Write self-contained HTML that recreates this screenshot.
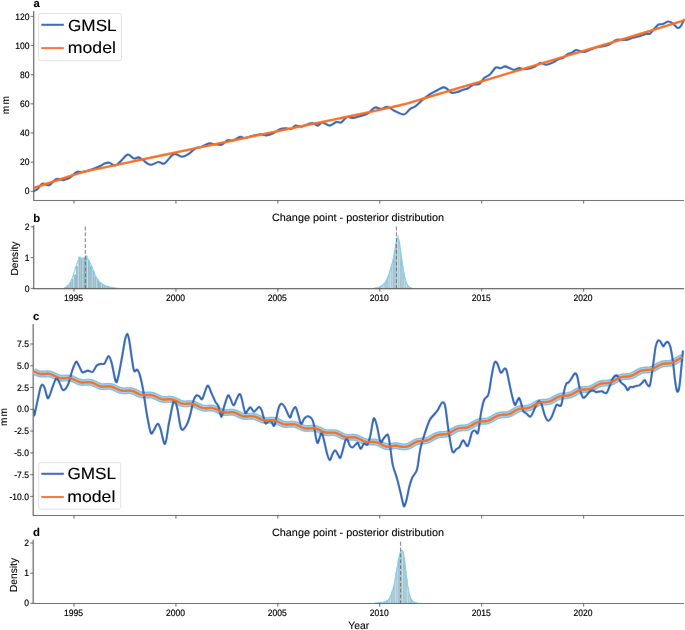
<!DOCTYPE html>
<html><head><meta charset="utf-8"><style>
html,body{margin:0;padding:0;background:#fff;width:685px;height:630px;overflow:hidden;}
body{position:relative;font-family:"Liberation Sans", sans-serif;}
svg{will-change:transform;}
text{text-rendering:geometricPrecision;}
</style></head><body>
<svg width="685" height="630" viewBox="0 0 685 630" style='position:absolute;left:0;top:0;font-family:"Liberation Sans", sans-serif'>
<defs><filter id="bl" x="-6" y="-6" width="697" height="642" filterUnits="userSpaceOnUse"><feConvolveMatrix order="3" kernelMatrix="0.00276 0.04704 0.00276 0.04704 0.80077 0.04704 0.00276 0.04704 0.00276" edgeMode="duplicate" preserveAlpha="true"/></filter><filter id="tb" x="-6" y="-6" width="697" height="642" filterUnits="userSpaceOnUse"><feConvolveMatrix order="3" kernelMatrix="0.00027 0.01580 0.00027 0.01580 0.93575 0.01580 0.00027 0.01580 0.00027" edgeMode="none" preserveAlpha="false"/></filter></defs>
<rect width="685" height="630" fill="#ffffff"/>
<g filter="url(#bl)">
<rect x="-6" y="-6" width="697" height="642" fill="#ffffff"/>
<path d="M33.70,11.00 L33.70,200.50 L684.00,200.50" fill="none" stroke="#555555" stroke-width="1.15"/>
<line x1="74.00" y1="200.50" x2="74.00" y2="203.60" stroke="#555555" stroke-width="0.95"/>
<line x1="175.92" y1="200.50" x2="175.92" y2="203.60" stroke="#555555" stroke-width="0.95"/>
<line x1="277.84" y1="200.50" x2="277.84" y2="203.60" stroke="#555555" stroke-width="0.95"/>
<line x1="379.76" y1="200.50" x2="379.76" y2="203.60" stroke="#555555" stroke-width="0.95"/>
<line x1="481.68" y1="200.50" x2="481.68" y2="203.60" stroke="#555555" stroke-width="0.95"/>
<line x1="583.60" y1="200.50" x2="583.60" y2="203.60" stroke="#555555" stroke-width="0.95"/>
<line x1="30.70" y1="191.30" x2="33.70" y2="191.30" stroke="#555555" stroke-width="0.95"/>
<line x1="30.70" y1="162.15" x2="33.70" y2="162.15" stroke="#555555" stroke-width="0.95"/>
<line x1="30.70" y1="133.00" x2="33.70" y2="133.00" stroke="#555555" stroke-width="0.95"/>
<line x1="30.70" y1="103.85" x2="33.70" y2="103.85" stroke="#555555" stroke-width="0.95"/>
<line x1="30.70" y1="74.70" x2="33.70" y2="74.70" stroke="#555555" stroke-width="0.95"/>
<line x1="30.70" y1="45.55" x2="33.70" y2="45.55" stroke="#555555" stroke-width="0.95"/>
<line x1="30.70" y1="16.40" x2="33.70" y2="16.40" stroke="#555555" stroke-width="0.95"/>
<clipPath id="ca"><rect x="33.7" y="6.0" width="651.3" height="193.5"/></clipPath>
<g clip-path="url(#ca)">
<path d="M33.80,191.20C33.85,191.17 33.47,191.37 34.10,191.00C34.73,190.63 36.33,190.17 37.60,189.00C38.87,187.83 40.63,184.88 41.70,184.00C42.77,183.12 43.03,183.50 44.00,183.70C44.97,183.90 46.52,185.00 47.50,185.20C48.48,185.40 48.92,185.53 49.90,184.90C50.88,184.27 52.33,182.37 53.40,181.40C54.47,180.43 55.33,179.48 56.30,179.10C57.27,178.72 58.13,178.92 59.20,179.10C60.27,179.28 61.73,180.12 62.70,180.20C63.67,180.28 63.78,180.03 65.00,179.60C66.22,179.17 68.05,178.88 70.00,177.60C71.95,176.32 74.80,172.82 76.70,171.90C78.60,170.98 79.07,172.45 81.40,172.10C83.73,171.75 87.58,170.82 90.70,169.80C93.82,168.78 97.80,167.05 100.10,166.00C102.40,164.95 102.97,164.05 104.50,163.50C106.03,162.95 107.52,162.37 109.30,162.70C111.08,163.03 113.25,165.80 115.20,165.50C117.15,165.20 118.93,162.72 121.00,160.90C123.07,159.08 125.45,155.00 127.60,154.60C129.75,154.20 132.08,158.03 133.90,158.50C135.72,158.97 136.95,157.12 138.50,157.40C140.05,157.68 141.25,158.97 143.20,160.20C145.15,161.43 147.67,164.50 150.20,164.80C152.73,165.10 156.07,162.18 158.40,162.00C160.73,161.82 162.25,164.47 164.20,163.70C166.15,162.93 168.35,159.03 170.10,157.40C171.85,155.77 172.75,154.02 174.70,153.90C176.65,153.78 179.45,156.70 181.80,156.70C184.15,156.70 186.47,155.35 188.80,153.90C191.13,152.45 193.87,149.10 195.80,148.00C197.73,146.90 198.27,148.07 200.40,147.30C202.53,146.53 206.25,143.93 208.60,143.40C210.95,142.87 212.35,143.87 214.50,144.10C216.65,144.33 219.37,145.43 221.50,144.80C223.63,144.17 225.37,141.05 227.30,140.30C229.23,139.55 230.95,140.88 233.10,140.30C235.25,139.72 238.25,137.18 240.20,136.80C242.15,136.42 242.87,138.15 244.80,138.00C246.73,137.85 250.15,136.33 251.80,135.90C253.45,135.47 253.25,135.68 254.70,135.40C256.15,135.12 258.55,134.20 260.50,134.20C262.45,134.20 264.25,135.55 266.40,135.40C268.55,135.25 271.07,134.35 273.40,133.30C275.73,132.25 278.27,129.92 280.40,129.10C282.53,128.28 284.45,128.40 286.20,128.40C287.95,128.40 289.35,129.57 290.90,129.10C292.45,128.63 293.75,126.00 295.50,125.60C297.25,125.20 299.25,126.98 301.40,126.70C303.55,126.42 306.45,124.48 308.40,123.90C310.35,123.32 311.55,122.92 313.10,123.20C314.65,123.48 316.15,125.72 317.70,125.60C319.25,125.48 320.45,122.50 322.40,122.50C324.35,122.50 327.07,125.68 329.40,125.60C331.73,125.52 334.45,122.52 336.40,122.00C338.35,121.48 339.33,123.32 341.10,122.50C342.87,121.68 345.13,117.85 347.00,117.10C348.87,116.35 349.97,118.20 352.30,118.00C354.63,117.80 358.38,116.68 361.00,115.90C363.62,115.12 365.67,114.70 368.00,113.30C370.33,111.90 372.80,108.23 375.00,107.50C377.20,106.77 379.15,109.02 381.20,108.90C383.25,108.78 385.12,106.50 387.30,106.80C389.48,107.10 391.52,109.42 394.30,110.70C397.08,111.98 401.37,114.80 404.00,114.50C406.63,114.20 408.22,110.27 410.10,108.90C411.98,107.53 413.08,107.93 415.30,106.30C417.52,104.67 420.88,101.17 423.40,99.10C425.92,97.03 428.07,95.38 430.40,93.90C432.73,92.42 435.27,91.28 437.40,90.20C439.53,89.12 441.65,87.68 443.20,87.40C444.75,87.12 445.33,87.62 446.70,88.50C448.07,89.38 449.65,92.12 451.40,92.70C453.15,93.28 455.25,92.50 457.20,92.00C459.15,91.50 461.35,90.28 463.10,89.70C464.85,89.12 465.95,89.35 467.70,88.50C469.45,87.65 471.65,85.37 473.60,84.60C475.55,83.83 477.65,85.00 479.40,83.90C481.15,82.80 482.35,79.57 484.10,78.00C485.85,76.43 487.95,76.25 489.90,74.50C491.85,72.75 494.05,68.55 495.80,67.50C497.55,66.45 498.85,68.38 500.40,68.20C501.95,68.02 503.53,66.40 505.10,66.40C506.67,66.40 508.23,67.62 509.80,68.20C511.37,68.78 512.95,69.93 514.50,69.90C516.05,69.87 517.55,68.12 519.10,68.00C520.65,67.88 521.85,69.17 523.80,69.20C525.75,69.23 528.85,68.67 530.80,68.20C532.75,67.73 533.93,67.30 535.50,66.40C537.07,65.50 538.42,63.08 540.20,62.80C541.98,62.52 544.12,64.73 546.20,64.70C548.28,64.67 550.55,63.55 552.70,62.60C554.85,61.65 557.33,59.78 559.10,59.00C560.87,58.22 561.90,58.72 563.30,57.90C564.70,57.08 566.08,54.98 567.50,54.10C568.92,53.22 570.38,53.27 571.80,52.60C573.22,51.93 574.60,50.35 576.00,50.10C577.40,49.85 578.78,50.78 580.20,51.10C581.62,51.42 582.73,52.27 584.50,52.00C586.27,51.73 588.68,50.28 590.80,49.50C592.92,48.72 595.08,47.83 597.20,47.30C599.32,46.77 601.38,46.82 603.50,46.30C605.62,45.78 607.78,45.27 609.90,44.20C612.02,43.13 614.08,40.62 616.20,39.90C618.32,39.18 620.83,39.90 622.60,39.90C624.37,39.90 625.05,40.25 626.80,39.90C628.55,39.55 630.98,38.40 633.10,37.80C635.22,37.20 637.38,36.93 639.50,36.30C641.62,35.67 644.03,34.45 645.80,34.00C647.57,33.55 648.68,34.48 650.10,33.60C651.52,32.72 652.90,30.22 654.30,28.70C655.70,27.18 657.08,25.27 658.50,24.50C659.92,23.73 661.20,24.60 662.80,24.10C664.40,23.60 666.52,21.68 668.10,21.50C669.68,21.32 670.72,21.93 672.30,23.00C673.88,24.07 676.18,27.37 677.60,27.90C679.02,28.43 679.73,27.55 680.80,26.20C681.87,24.85 683.47,20.87 684.00,19.80" fill="none" stroke="#2360b4" stroke-width="2.1" stroke-linejoin="round" stroke-linecap="round"/>
<path d="M33.80,187.90C36.50,187.02 43.97,184.57 50.00,182.60C56.03,180.63 64.17,177.93 70.00,176.10C75.83,174.27 80.00,172.88 85.00,171.60C90.00,170.32 93.33,169.82 100.00,168.40C106.67,166.98 115.00,165.20 125.00,163.10C135.00,161.00 147.50,158.42 160.00,155.80C172.50,153.18 185.00,150.55 200.00,147.40C215.00,144.25 233.33,140.38 250.00,136.90C266.67,133.42 285.00,129.60 300.00,126.50C315.00,123.40 327.50,120.90 340.00,118.30C352.50,115.70 366.23,112.78 375.00,110.90C383.77,109.02 388.10,108.02 392.60,107.00C397.10,105.98 399.08,105.53 402.00,104.80C404.92,104.07 407.10,103.47 410.10,102.60C413.10,101.73 417.08,100.48 420.00,99.60C422.92,98.72 423.42,98.55 427.60,97.30C431.78,96.05 439.70,93.70 445.10,92.10C450.50,90.50 450.85,90.40 460.00,87.70C469.15,85.00 486.67,79.88 500.00,75.90C513.33,71.92 530.00,66.80 540.00,63.80C550.00,60.80 550.00,60.87 560.00,57.90C570.00,54.93 586.67,49.98 600.00,46.00C613.33,42.02 626.00,38.27 640.00,34.00C654.00,29.73 676.67,22.67 684.00,20.40" fill="none" stroke="#f76d12" stroke-width="2.45" stroke-linejoin="round" stroke-linecap="round"/>
</g>
<rect x="38.70" y="13.50" width="82.80" height="47.10" rx="2" ry="2" fill="#ffffff" fill-opacity="0.8" stroke="#dcdcdc" stroke-width="0.9"/>
<line x1="41.30" y1="24.80" x2="63.90" y2="24.80" stroke="#2360b4" stroke-width="2"/>
<line x1="41.30" y1="48.10" x2="63.90" y2="48.10" stroke="#f76d12" stroke-width="2"/>
<rect x="64.50" y="287.00" width="2.35" height="1.55" fill="#97bac6"/>
<rect x="66.80" y="285.00" width="2.35" height="3.55" fill="#97bac6"/>
<rect x="69.10" y="282.50" width="2.35" height="6.05" fill="#97bac6"/>
<rect x="71.40" y="279.00" width="2.35" height="9.55" fill="#97bac6"/>
<rect x="73.70" y="274.50" width="2.35" height="14.05" fill="#97bac6"/>
<rect x="76.00" y="266.00" width="2.35" height="22.55" fill="#97bac6"/>
<rect x="78.30" y="256.60" width="2.35" height="31.95" fill="#97bac6"/>
<rect x="80.60" y="258.30" width="2.35" height="30.25" fill="#97bac6"/>
<rect x="82.90" y="257.80" width="2.35" height="30.75" fill="#97bac6"/>
<rect x="85.20" y="255.60" width="2.35" height="32.95" fill="#97bac6"/>
<rect x="87.50" y="260.00" width="2.35" height="28.55" fill="#97bac6"/>
<rect x="89.80" y="265.80" width="2.35" height="22.75" fill="#97bac6"/>
<rect x="92.10" y="270.50" width="2.35" height="18.05" fill="#97bac6"/>
<rect x="94.40" y="276.50" width="2.35" height="12.05" fill="#97bac6"/>
<rect x="96.70" y="279.50" width="2.35" height="9.05" fill="#97bac6"/>
<rect x="99.00" y="282.50" width="2.35" height="6.05" fill="#97bac6"/>
<rect x="101.30" y="284.00" width="2.35" height="4.55" fill="#97bac6"/>
<rect x="103.60" y="285.30" width="2.35" height="3.25" fill="#97bac6"/>
<rect x="105.90" y="286.00" width="2.35" height="2.55" fill="#97bac6"/>
<rect x="108.20" y="286.80" width="2.35" height="1.75" fill="#97bac6"/>
<rect x="110.50" y="287.40" width="2.35" height="1.15" fill="#97bac6"/>
<rect x="112.80" y="287.80" width="2.35" height="0.75" fill="#97bac6"/>
<line x1="69.10" y1="285.00" x2="69.10" y2="288.55" stroke="#cfeef8" stroke-width="0.7"/>
<line x1="73.70" y1="279.00" x2="73.70" y2="288.55" stroke="#cfeef8" stroke-width="0.7"/>
<line x1="78.30" y1="266.00" x2="78.30" y2="288.55" stroke="#cfeef8" stroke-width="0.7"/>
<line x1="82.90" y1="258.30" x2="82.90" y2="288.55" stroke="#cfeef8" stroke-width="0.7"/>
<line x1="87.50" y1="260.00" x2="87.50" y2="288.55" stroke="#cfeef8" stroke-width="0.7"/>
<line x1="92.10" y1="270.50" x2="92.10" y2="288.55" stroke="#cfeef8" stroke-width="0.7"/>
<line x1="96.70" y1="279.50" x2="96.70" y2="288.55" stroke="#cfeef8" stroke-width="0.7"/>
<line x1="101.30" y1="284.00" x2="101.30" y2="288.55" stroke="#cfeef8" stroke-width="0.7"/>
<line x1="105.90" y1="286.00" x2="105.90" y2="288.55" stroke="#cfeef8" stroke-width="0.7"/>
<line x1="110.50" y1="287.40" x2="110.50" y2="288.55" stroke="#cfeef8" stroke-width="0.7"/>
<path d="M63.50,288.50C63.80,288.40 64.72,288.28 65.30,287.90C65.88,287.52 66.28,286.90 67.00,286.20C67.72,285.50 68.62,285.32 69.60,283.70C70.58,282.08 71.82,279.43 72.90,276.50C73.98,273.57 75.10,268.98 76.10,266.10C77.10,263.22 78.10,260.50 78.90,259.20C79.70,257.90 80.03,258.50 80.90,258.30C81.77,258.10 83.03,257.98 84.10,258.00C85.17,258.02 86.43,257.87 87.30,258.40C88.17,258.93 88.50,259.72 89.30,261.20C90.10,262.68 91.10,264.88 92.10,267.30C93.10,269.72 94.22,273.43 95.30,275.70C96.38,277.97 97.38,279.50 98.60,280.90C99.82,282.30 101.27,283.27 102.60,284.10C103.93,284.93 105.37,285.42 106.60,285.90C107.83,286.38 108.85,286.70 110.00,287.00C111.15,287.30 112.33,287.50 113.50,287.70C114.67,287.90 115.92,288.07 117.00,288.20C118.08,288.33 119.50,288.45 120.00,288.50" fill="none" stroke="#7acfec" stroke-width="1.1" stroke-linejoin="round"/>
<line x1="85.30" y1="226.50" x2="85.30" y2="288.55" stroke="#5a5a5a" stroke-width="0.9" stroke-dasharray="3.9,1.95"/>
<rect x="379.00" y="286.69" width="1.20" height="1.86" fill="#97bac6"/>
<rect x="380.15" y="286.07" width="1.20" height="2.48" fill="#97bac6"/>
<rect x="381.30" y="285.80" width="1.20" height="2.75" fill="#97bac6"/>
<rect x="382.45" y="284.95" width="1.20" height="3.60" fill="#97bac6"/>
<rect x="383.60" y="283.23" width="1.20" height="5.32" fill="#97bac6"/>
<rect x="384.75" y="282.00" width="1.20" height="6.55" fill="#97bac6"/>
<rect x="385.90" y="279.83" width="1.20" height="8.72" fill="#97bac6"/>
<rect x="387.05" y="277.72" width="1.20" height="10.83" fill="#97bac6"/>
<rect x="388.20" y="274.45" width="1.20" height="14.10" fill="#97bac6"/>
<rect x="389.35" y="270.79" width="1.20" height="17.76" fill="#97bac6"/>
<rect x="390.50" y="267.11" width="1.20" height="21.44" fill="#97bac6"/>
<rect x="391.65" y="264.28" width="1.20" height="24.27" fill="#97bac6"/>
<rect x="392.80" y="258.50" width="1.20" height="30.05" fill="#97bac6"/>
<rect x="393.95" y="252.07" width="1.20" height="36.48" fill="#97bac6"/>
<rect x="395.10" y="243.93" width="1.20" height="44.62" fill="#97bac6"/>
<rect x="396.25" y="237.57" width="1.20" height="50.98" fill="#97bac6"/>
<rect x="397.40" y="235.79" width="1.20" height="52.76" fill="#97bac6"/>
<rect x="398.55" y="240.98" width="1.20" height="47.57" fill="#97bac6"/>
<rect x="399.70" y="248.78" width="1.20" height="39.77" fill="#97bac6"/>
<rect x="400.85" y="258.14" width="1.20" height="30.41" fill="#97bac6"/>
<rect x="402.00" y="266.02" width="1.20" height="22.53" fill="#97bac6"/>
<rect x="403.15" y="272.53" width="1.20" height="16.02" fill="#97bac6"/>
<rect x="404.30" y="277.07" width="1.20" height="11.48" fill="#97bac6"/>
<rect x="405.45" y="281.62" width="1.20" height="6.93" fill="#97bac6"/>
<rect x="406.60" y="284.09" width="1.20" height="4.46" fill="#97bac6"/>
<rect x="407.75" y="285.86" width="1.20" height="2.69" fill="#97bac6"/>
<rect x="408.90" y="286.97" width="1.20" height="1.58" fill="#97bac6"/>
<rect x="410.05" y="287.77" width="1.20" height="0.78" fill="#97bac6"/>
<line x1="381.30" y1="286.07" x2="381.30" y2="288.55" stroke="#cfeef8" stroke-width="0.7"/>
<line x1="383.60" y1="284.95" x2="383.60" y2="288.55" stroke="#cfeef8" stroke-width="0.7"/>
<line x1="385.90" y1="282.00" x2="385.90" y2="288.55" stroke="#cfeef8" stroke-width="0.7"/>
<line x1="388.20" y1="277.72" x2="388.20" y2="288.55" stroke="#cfeef8" stroke-width="0.7"/>
<line x1="390.50" y1="270.79" x2="390.50" y2="288.55" stroke="#cfeef8" stroke-width="0.7"/>
<line x1="392.80" y1="264.28" x2="392.80" y2="288.55" stroke="#cfeef8" stroke-width="0.7"/>
<line x1="395.10" y1="252.07" x2="395.10" y2="288.55" stroke="#cfeef8" stroke-width="0.7"/>
<line x1="397.40" y1="237.57" x2="397.40" y2="288.55" stroke="#cfeef8" stroke-width="0.7"/>
<line x1="399.70" y1="248.78" x2="399.70" y2="288.55" stroke="#cfeef8" stroke-width="0.7"/>
<line x1="402.00" y1="266.02" x2="402.00" y2="288.55" stroke="#cfeef8" stroke-width="0.7"/>
<line x1="404.30" y1="277.07" x2="404.30" y2="288.55" stroke="#cfeef8" stroke-width="0.7"/>
<line x1="406.60" y1="284.09" x2="406.60" y2="288.55" stroke="#cfeef8" stroke-width="0.7"/>
<line x1="408.90" y1="286.97" x2="408.90" y2="288.55" stroke="#cfeef8" stroke-width="0.7"/>
<path d="M373.50,288.40C373.92,288.32 375.08,288.12 376.00,287.90C376.92,287.68 377.92,287.53 379.00,287.10C380.08,286.67 381.38,286.18 382.50,285.30C383.62,284.42 384.68,283.48 385.70,281.80C386.72,280.12 387.73,277.50 388.60,275.20C389.47,272.90 390.15,270.57 390.90,268.00C391.65,265.43 392.47,262.72 393.10,259.80C393.73,256.88 394.20,253.30 394.70,250.50C395.20,247.70 395.62,244.98 396.10,243.00C396.58,241.02 397.15,239.17 397.60,238.60C398.05,238.03 398.48,238.83 398.80,239.60C399.12,240.37 399.22,241.47 399.50,243.20C399.78,244.93 400.17,247.58 400.50,250.00C400.83,252.42 401.10,254.95 401.50,257.70C401.90,260.45 402.43,263.65 402.90,266.50C403.37,269.35 403.73,272.13 404.30,274.80C404.87,277.47 405.60,280.58 406.30,282.50C407.00,284.42 407.75,285.40 408.50,286.30C409.25,287.20 410.05,287.55 410.80,287.90C411.55,288.25 412.63,288.32 413.00,288.40" fill="none" stroke="#7acfec" stroke-width="1.1" stroke-linejoin="round"/>
<line x1="396.40" y1="226.50" x2="396.40" y2="288.55" stroke="#5a5a5a" stroke-width="0.9" stroke-dasharray="3.9,1.95"/>
<path d="M33.70,225.20 L33.70,288.55 L684.00,288.55" fill="none" stroke="#555555" stroke-width="1.15"/>
<line x1="74.00" y1="288.55" x2="74.00" y2="291.65" stroke="#555555" stroke-width="0.95"/>
<line x1="175.92" y1="288.55" x2="175.92" y2="291.65" stroke="#555555" stroke-width="0.95"/>
<line x1="277.84" y1="288.55" x2="277.84" y2="291.65" stroke="#555555" stroke-width="0.95"/>
<line x1="379.76" y1="288.55" x2="379.76" y2="291.65" stroke="#555555" stroke-width="0.95"/>
<line x1="481.68" y1="288.55" x2="481.68" y2="291.65" stroke="#555555" stroke-width="0.95"/>
<line x1="583.60" y1="288.55" x2="583.60" y2="291.65" stroke="#555555" stroke-width="0.95"/>
<line x1="30.70" y1="288.40" x2="33.70" y2="288.40" stroke="#555555" stroke-width="0.95"/>
<line x1="30.70" y1="257.60" x2="33.70" y2="257.60" stroke="#555555" stroke-width="0.95"/>
<line x1="30.70" y1="226.80" x2="33.70" y2="226.80" stroke="#555555" stroke-width="0.95"/>
<path d="M33.20,324.00 L33.20,515.50 L684.00,515.50" fill="none" stroke="#555555" stroke-width="1.15"/>
<line x1="74.00" y1="515.50" x2="74.00" y2="518.60" stroke="#555555" stroke-width="0.95"/>
<line x1="175.92" y1="515.50" x2="175.92" y2="518.60" stroke="#555555" stroke-width="0.95"/>
<line x1="277.84" y1="515.50" x2="277.84" y2="518.60" stroke="#555555" stroke-width="0.95"/>
<line x1="379.76" y1="515.50" x2="379.76" y2="518.60" stroke="#555555" stroke-width="0.95"/>
<line x1="481.68" y1="515.50" x2="481.68" y2="518.60" stroke="#555555" stroke-width="0.95"/>
<line x1="583.60" y1="515.50" x2="583.60" y2="518.60" stroke="#555555" stroke-width="0.95"/>
<line x1="30.20" y1="344.00" x2="33.20" y2="344.00" stroke="#555555" stroke-width="0.95"/>
<line x1="30.20" y1="365.77" x2="33.20" y2="365.77" stroke="#555555" stroke-width="0.95"/>
<line x1="30.20" y1="387.54" x2="33.20" y2="387.54" stroke="#555555" stroke-width="0.95"/>
<line x1="30.20" y1="409.31" x2="33.20" y2="409.31" stroke="#555555" stroke-width="0.95"/>
<line x1="30.20" y1="431.08" x2="33.20" y2="431.08" stroke="#555555" stroke-width="0.95"/>
<line x1="30.20" y1="452.86" x2="33.20" y2="452.86" stroke="#555555" stroke-width="0.95"/>
<line x1="30.20" y1="474.63" x2="33.20" y2="474.63" stroke="#555555" stroke-width="0.95"/>
<line x1="30.20" y1="496.40" x2="33.20" y2="496.40" stroke="#555555" stroke-width="0.95"/>
<clipPath id="cc"><rect x="33.4" y="319.0" width="651.6" height="195.5"/></clipPath>
<g clip-path="url(#cc)">
<path d="M33.60,371.28 L34.60,371.77 L35.60,372.27 L36.60,372.74 L37.60,373.16 L38.60,373.51 L39.60,373.78 L40.60,373.96 L41.60,374.05 L42.60,374.07 L43.60,374.03 L44.60,373.95 L45.60,373.87 L46.60,373.80 L47.60,373.78 L48.60,373.82 L49.60,373.95 L50.60,374.16 L51.60,374.47 L52.60,374.85 L53.60,375.29 L54.60,375.77 L55.60,376.27 L56.60,376.75 L57.60,377.20 L58.60,377.58 L59.60,377.88 L60.60,378.10 L61.60,378.22 L62.60,378.27 L63.60,378.24 L64.60,378.18 L65.60,378.09 L66.60,378.02 L67.60,377.97 L68.60,377.99 L69.60,378.08 L70.60,378.26 L71.60,378.53 L72.60,378.88 L73.60,379.31 L74.60,379.78 L75.60,380.27 L76.60,380.76 L77.60,381.23 L78.60,381.63 L79.60,381.97 L80.60,382.22 L81.60,382.38 L82.60,382.45 L83.60,382.45 L84.60,382.40 L85.60,382.32 L86.60,382.24 L87.60,382.18 L88.60,382.17 L89.60,382.23 L90.60,382.38 L91.60,382.61 L92.60,382.93 L93.60,383.33 L94.60,383.78 L95.60,384.27 L96.60,384.77 L97.60,385.25 L98.60,385.68 L99.60,386.04 L100.60,386.33 L101.60,386.52 L102.60,386.62 L103.60,386.65 L104.60,386.62 L105.60,386.55 L106.60,386.46 L107.60,386.39 L108.60,386.36 L109.60,386.39 L110.60,386.50 L111.60,386.70 L112.60,386.99 L113.60,387.36 L114.60,387.80 L115.60,388.28 L116.60,388.77 L117.60,389.26 L118.60,389.71 L119.60,390.10 L120.60,390.42 L121.60,390.65 L122.60,390.79 L123.60,390.84 L124.60,390.83 L125.60,390.77 L126.60,390.70 L127.60,390.62 L128.60,390.58 L129.60,390.60 L130.60,390.68 L131.60,390.86 L132.60,391.12 L133.60,391.47 L134.60,391.89 L135.60,392.36 L136.60,392.86 L137.60,393.36 L138.60,393.84 L139.60,394.26 L140.60,394.61 L141.60,394.88 L142.60,395.07 L143.60,395.16 L144.60,395.18 L145.60,395.14 L146.60,395.07 L147.60,394.99 L148.60,394.94 L149.60,394.93 L150.60,394.98 L151.60,395.12 L152.60,395.35 L153.60,395.66 L154.60,396.06 L155.60,396.51 L156.60,397.01 L157.60,397.51 L158.60,398.00 L159.60,398.45 L160.60,398.83 L161.60,399.13 L162.60,399.35 L163.60,399.48 L164.60,399.52 L165.60,399.50 L166.60,399.44 L167.60,399.36 L168.60,399.30 L169.60,399.26 L170.60,399.29 L171.60,399.40 L172.60,399.59 L173.60,399.87 L174.60,400.24 L175.60,400.67 L176.60,401.15 L177.60,401.66 L178.60,402.16 L179.60,402.62 L180.60,403.03 L181.60,403.37 L182.60,403.62 L183.60,403.78 L184.60,403.85 L185.60,403.86 L186.60,403.81 L187.60,403.74 L188.60,403.66 L189.60,403.61 L190.60,403.62 L191.60,403.69 L192.60,403.85 L193.60,404.10 L194.60,404.43 L195.60,404.84 L196.60,405.31 L197.60,405.80 L198.60,406.31 L199.60,406.79 L200.60,407.22 L201.60,407.59 L202.60,407.87 L203.60,408.07 L204.60,408.18 L205.60,408.21 L206.60,408.18 L207.60,408.11 L208.60,408.03 L209.60,407.97 L210.60,407.95 L211.60,407.99 L212.60,408.12 L213.60,408.33 L214.60,408.64 L215.60,409.02 L216.60,409.46 L217.60,409.95 L218.60,410.46 L219.60,410.95 L220.60,411.41 L221.60,411.80 L222.60,412.12 L223.60,412.35 L224.60,412.49 L225.60,412.54 L226.60,412.51 L227.60,412.44 L228.60,412.34 L229.60,412.25 L230.60,412.20 L231.60,412.20 L232.60,412.27 L233.60,412.43 L234.60,412.69 L235.60,413.02 L236.60,413.43 L237.60,413.89 L238.60,414.37 L239.60,414.85 L240.60,415.31 L241.60,415.71 L242.60,416.04 L243.60,416.29 L244.60,416.45 L245.60,416.52 L246.60,416.52 L247.60,416.46 L248.60,416.37 L249.60,416.28 L250.60,416.20 L251.60,416.18 L252.60,416.22 L253.60,416.35 L254.60,416.57 L255.60,416.87 L256.60,417.26 L257.60,417.70 L258.60,418.17 L259.60,418.66 L260.60,419.13 L261.60,419.56 L262.60,419.92 L263.60,420.20 L264.60,420.39 L265.60,420.49 L266.60,420.52 L267.60,420.48 L268.60,420.40 L269.60,420.30 L270.60,420.22 L271.60,420.17 L272.60,420.19 L273.60,420.28 L274.60,420.47 L275.60,420.74 L276.60,421.09 L277.60,421.51 L278.60,421.98 L279.60,422.46 L280.60,422.94 L281.60,423.39 L282.60,423.78 L283.60,424.09 L284.60,424.32 L285.60,424.46 L286.60,424.51 L287.60,424.49 L288.60,424.42 L289.60,424.33 L290.60,424.24 L291.60,424.18 L292.60,424.17 L293.60,424.23 L294.60,424.38 L295.60,424.61 L296.60,424.94 L297.60,425.33 L298.60,425.79 L299.60,426.27 L300.60,426.75 L301.60,427.21 L302.60,427.63 L303.60,427.97 L304.60,428.23 L305.60,428.40 L306.60,428.49 L307.60,428.50 L308.60,428.45 L309.60,428.36 L310.60,428.26 L311.60,428.19 L312.60,428.15 L313.60,428.19 L314.60,428.30 L315.60,428.50 L316.60,428.79 L317.60,429.16 L318.60,429.60 L319.60,430.07 L320.60,430.58 L321.60,431.09 L322.60,431.56 L323.60,431.96 L324.60,432.29 L325.60,432.53 L326.60,432.68 L327.60,432.75 L328.60,432.75 L329.60,432.71 L330.60,432.65 L331.60,432.60 L332.60,432.58 L333.60,432.62 L334.60,432.74 L335.60,432.94 L336.60,433.23 L337.60,433.60 L338.60,434.05 L339.60,434.54 L340.60,435.06 L341.60,435.58 L342.60,436.07 L343.60,436.50 L344.60,436.86 L345.60,437.13 L346.60,437.32 L347.60,437.42 L348.60,437.45 L349.60,437.42 L350.60,437.36 L351.60,437.30 L352.60,437.27 L353.60,437.28 L354.60,437.37 L355.60,437.53 L356.60,437.79 L357.60,438.14 L358.60,438.56 L359.60,439.03 L360.60,439.55 L361.60,440.07 L362.60,440.57 L363.60,441.03 L364.60,441.42 L365.60,441.73 L366.60,441.94 L367.60,442.08 L368.60,442.13 L369.60,442.12 L370.60,442.07 L371.60,442.01 L372.60,441.96 L373.60,441.96 L374.60,442.01 L375.60,442.15 L376.60,442.37 L377.60,442.68 L378.60,443.07 L379.60,443.53 L380.60,444.03 L381.60,444.55 L382.60,445.07 L383.60,445.54 L384.60,445.96 L385.60,446.30 L386.60,446.56 L387.60,446.72 L388.60,446.76 L389.60,446.62 L390.60,446.44 L391.60,446.23 L392.60,446.03 L393.60,445.85 L394.60,445.74 L395.60,445.69 L396.60,445.73 L397.60,445.86 L398.60,446.07 L399.60,446.36 L400.60,446.67 L401.60,446.74 L402.60,446.81 L403.60,446.85 L404.60,446.84 L405.60,446.76 L406.60,446.60 L407.60,446.35 L408.60,446.01 L409.60,445.60 L410.60,445.07 L411.60,444.46 L412.60,443.85 L413.60,443.25 L414.60,442.71 L415.60,442.23 L416.60,441.83 L417.60,441.52 L418.60,441.30 L419.60,441.16 L420.60,441.08 L421.60,441.03 L422.60,441.00 L423.60,440.96 L424.60,440.87 L425.60,440.72 L426.60,440.49 L427.60,440.17 L428.60,439.76 L429.60,439.28 L430.60,438.72 L431.60,438.13 L432.60,437.52 L433.60,436.91 L434.60,436.34 L435.60,435.84 L436.60,435.41 L437.60,435.06 L438.60,434.81 L439.60,434.64 L440.60,434.53 L441.60,434.48 L442.60,434.45 L443.60,434.41 L444.60,434.34 L445.60,434.22 L446.60,434.02 L447.60,433.74 L448.60,433.37 L449.60,432.91 L450.60,432.38 L451.60,431.80 L452.60,431.19 L453.60,430.58 L454.60,429.99 L455.60,429.46 L456.60,429.00 L457.60,428.62 L458.60,428.33 L459.60,428.13 L460.60,428.00 L461.60,427.93 L462.60,427.89 L463.60,427.86 L464.60,427.81 L465.60,427.71 L466.60,427.54 L467.60,427.29 L468.60,426.95 L469.60,426.53 L470.60,426.02 L471.60,425.46 L472.60,424.86 L473.60,424.24 L474.60,423.65 L475.60,423.09 L476.60,422.60 L477.60,422.19 L478.60,421.86 L479.60,421.63 L480.60,421.48 L481.60,421.39 L482.60,421.34 L483.60,421.31 L484.60,421.27 L485.60,421.19 L486.60,421.05 L487.60,420.83 L488.60,420.53 L489.60,420.14 L490.60,419.66 L491.60,419.12 L492.60,418.53 L493.60,417.91 L494.60,417.31 L495.60,416.73 L496.60,416.21 L497.60,415.77 L498.60,415.41 L499.60,415.14 L500.60,414.96 L501.60,414.85 L502.60,414.79 L503.60,414.75 L504.60,414.72 L505.60,414.67 L506.60,414.56 L507.60,414.39 L508.60,414.13 L509.60,413.79 L510.60,413.35 L511.60,412.85 L512.60,412.28 L513.60,411.69 L514.60,411.09 L515.60,410.51 L516.60,409.98 L517.60,409.52 L518.60,409.14 L519.60,408.85 L520.60,408.64 L521.60,408.52 L522.60,408.45 L523.60,408.42 L524.60,408.41 L525.60,408.37 L526.60,408.29 L527.60,408.15 L528.60,407.92 L529.60,407.61 L530.60,407.21 L531.60,406.73 L532.60,406.19 L533.60,405.60 L534.60,405.00 L535.60,404.41 L536.60,403.86 L537.60,403.37 L538.60,402.95 L539.60,402.63 L540.60,402.39 L541.60,402.24 L542.60,402.15 L543.60,402.11 L544.60,402.09 L545.60,402.07 L546.60,402.01 L547.60,401.89 L548.60,401.70 L549.60,401.42 L550.60,401.06 L551.60,400.60 L552.60,400.08 L553.60,399.51 L554.60,398.91 L555.60,398.31 L556.60,397.74 L557.60,397.23 L558.60,396.78 L559.60,396.42 L560.60,396.15 L561.60,395.97 L562.60,395.86 L563.60,395.80 L564.60,395.78 L565.60,395.76 L566.60,395.72 L567.60,395.63 L568.60,395.46 L569.60,395.22 L570.60,394.89 L571.60,394.47 L572.60,393.97 L573.60,393.42 L574.60,392.82 L575.60,392.22 L576.60,391.64 L577.60,391.10 L578.60,390.63 L579.60,390.23 L580.60,389.93 L581.60,389.71 L582.60,389.57 L583.60,389.50 L584.60,389.47 L585.60,389.45 L586.60,389.42 L587.60,389.35 L588.60,389.22 L589.60,389.01 L590.60,388.71 L591.60,388.32 L592.60,387.85 L593.60,387.32 L594.60,386.74 L595.60,386.13 L596.60,385.54 L597.60,384.98 L598.60,384.48 L599.60,384.05 L600.60,383.72 L601.60,383.47 L602.60,383.30 L603.60,383.20 L604.60,383.16 L605.60,383.13 L606.60,383.10 L607.60,383.03 L608.60,382.92 L609.60,382.73 L610.60,382.45 L611.60,382.09 L612.60,381.64 L613.60,381.12 L614.60,380.54 L615.60,379.93 L616.60,379.32 L617.60,378.73 L618.60,378.20 L619.60,377.73 L620.60,377.35 L621.60,377.05 L622.60,376.84 L623.60,376.71 L624.60,376.64 L625.60,376.60 L626.60,376.57 L627.60,376.52 L628.60,376.43 L629.60,376.27 L630.60,376.03 L631.60,375.70 L632.60,375.28 L633.60,374.78 L634.60,374.22 L635.60,373.63 L636.60,373.01 L637.60,372.41 L638.60,371.86 L639.60,371.36 L640.60,370.94 L641.60,370.61 L642.60,370.37 L643.60,370.21 L644.60,370.12 L645.60,370.07 L646.60,370.04 L647.60,370.00 L648.60,369.93 L649.60,369.80 L650.60,369.59 L651.60,369.29 L652.60,368.91 L653.60,368.44 L654.60,367.90 L655.60,367.32 L656.60,366.71 L657.60,366.10 L658.60,365.52 L659.60,365.00 L660.60,364.55 L661.60,364.19 L662.60,363.91 L663.60,363.72 L664.60,363.60 L665.60,363.54 L666.60,363.51 L667.60,363.48 L668.60,363.42 L669.60,363.31 L670.60,363.14 L671.60,362.88 L672.60,362.53 L673.60,362.09 L674.60,361.58 L675.60,361.01 L676.60,360.40 L677.60,359.79 L678.60,359.20 L679.60,358.65 L680.60,358.17 L681.60,357.77 L682.60,357.46" fill="none" stroke="#79bbe2" stroke-width="6.9" stroke-linejoin="round"/>
<path d="M33.60,371.28 L34.60,371.77 L35.60,372.27 L36.60,372.74 L37.60,373.16 L38.60,373.51 L39.60,373.78 L40.60,373.96 L41.60,374.05 L42.60,374.07 L43.60,374.03 L44.60,373.95 L45.60,373.87 L46.60,373.80 L47.60,373.78 L48.60,373.82 L49.60,373.95 L50.60,374.16 L51.60,374.47 L52.60,374.85 L53.60,375.29 L54.60,375.77 L55.60,376.27 L56.60,376.75 L57.60,377.20 L58.60,377.58 L59.60,377.88 L60.60,378.10 L61.60,378.22 L62.60,378.27 L63.60,378.24 L64.60,378.18 L65.60,378.09 L66.60,378.02 L67.60,377.97 L68.60,377.99 L69.60,378.08 L70.60,378.26 L71.60,378.53 L72.60,378.88 L73.60,379.31 L74.60,379.78 L75.60,380.27 L76.60,380.76 L77.60,381.23 L78.60,381.63 L79.60,381.97 L80.60,382.22 L81.60,382.38 L82.60,382.45 L83.60,382.45 L84.60,382.40 L85.60,382.32 L86.60,382.24 L87.60,382.18 L88.60,382.17 L89.60,382.23 L90.60,382.38 L91.60,382.61 L92.60,382.93 L93.60,383.33 L94.60,383.78 L95.60,384.27 L96.60,384.77 L97.60,385.25 L98.60,385.68 L99.60,386.04 L100.60,386.33 L101.60,386.52 L102.60,386.62 L103.60,386.65 L104.60,386.62 L105.60,386.55 L106.60,386.46 L107.60,386.39 L108.60,386.36 L109.60,386.39 L110.60,386.50 L111.60,386.70 L112.60,386.99 L113.60,387.36 L114.60,387.80 L115.60,388.28 L116.60,388.77 L117.60,389.26 L118.60,389.71 L119.60,390.10 L120.60,390.42 L121.60,390.65 L122.60,390.79 L123.60,390.84 L124.60,390.83 L125.60,390.77 L126.60,390.70 L127.60,390.62 L128.60,390.58 L129.60,390.60 L130.60,390.68 L131.60,390.86 L132.60,391.12 L133.60,391.47 L134.60,391.89 L135.60,392.36 L136.60,392.86 L137.60,393.36 L138.60,393.84 L139.60,394.26 L140.60,394.61 L141.60,394.88 L142.60,395.07 L143.60,395.16 L144.60,395.18 L145.60,395.14 L146.60,395.07 L147.60,394.99 L148.60,394.94 L149.60,394.93 L150.60,394.98 L151.60,395.12 L152.60,395.35 L153.60,395.66 L154.60,396.06 L155.60,396.51 L156.60,397.01 L157.60,397.51 L158.60,398.00 L159.60,398.45 L160.60,398.83 L161.60,399.13 L162.60,399.35 L163.60,399.48 L164.60,399.52 L165.60,399.50 L166.60,399.44 L167.60,399.36 L168.60,399.30 L169.60,399.26 L170.60,399.29 L171.60,399.40 L172.60,399.59 L173.60,399.87 L174.60,400.24 L175.60,400.67 L176.60,401.15 L177.60,401.66 L178.60,402.16 L179.60,402.62 L180.60,403.03 L181.60,403.37 L182.60,403.62 L183.60,403.78 L184.60,403.85 L185.60,403.86 L186.60,403.81 L187.60,403.74 L188.60,403.66 L189.60,403.61 L190.60,403.62 L191.60,403.69 L192.60,403.85 L193.60,404.10 L194.60,404.43 L195.60,404.84 L196.60,405.31 L197.60,405.80 L198.60,406.31 L199.60,406.79 L200.60,407.22 L201.60,407.59 L202.60,407.87 L203.60,408.07 L204.60,408.18 L205.60,408.21 L206.60,408.18 L207.60,408.11 L208.60,408.03 L209.60,407.97 L210.60,407.95 L211.60,407.99 L212.60,408.12 L213.60,408.33 L214.60,408.64 L215.60,409.02 L216.60,409.46 L217.60,409.95 L218.60,410.46 L219.60,410.95 L220.60,411.41 L221.60,411.80 L222.60,412.12 L223.60,412.35 L224.60,412.49 L225.60,412.54 L226.60,412.51 L227.60,412.44 L228.60,412.34 L229.60,412.25 L230.60,412.20 L231.60,412.20 L232.60,412.27 L233.60,412.43 L234.60,412.69 L235.60,413.02 L236.60,413.43 L237.60,413.89 L238.60,414.37 L239.60,414.85 L240.60,415.31 L241.60,415.71 L242.60,416.04 L243.60,416.29 L244.60,416.45 L245.60,416.52 L246.60,416.52 L247.60,416.46 L248.60,416.37 L249.60,416.28 L250.60,416.20 L251.60,416.18 L252.60,416.22 L253.60,416.35 L254.60,416.57 L255.60,416.87 L256.60,417.26 L257.60,417.70 L258.60,418.17 L259.60,418.66 L260.60,419.13 L261.60,419.56 L262.60,419.92 L263.60,420.20 L264.60,420.39 L265.60,420.49 L266.60,420.52 L267.60,420.48 L268.60,420.40 L269.60,420.30 L270.60,420.22 L271.60,420.17 L272.60,420.19 L273.60,420.28 L274.60,420.47 L275.60,420.74 L276.60,421.09 L277.60,421.51 L278.60,421.98 L279.60,422.46 L280.60,422.94 L281.60,423.39 L282.60,423.78 L283.60,424.09 L284.60,424.32 L285.60,424.46 L286.60,424.51 L287.60,424.49 L288.60,424.42 L289.60,424.33 L290.60,424.24 L291.60,424.18 L292.60,424.17 L293.60,424.23 L294.60,424.38 L295.60,424.61 L296.60,424.94 L297.60,425.33 L298.60,425.79 L299.60,426.27 L300.60,426.75 L301.60,427.21 L302.60,427.63 L303.60,427.97 L304.60,428.23 L305.60,428.40 L306.60,428.49 L307.60,428.50 L308.60,428.45 L309.60,428.36 L310.60,428.26 L311.60,428.19 L312.60,428.15 L313.60,428.19 L314.60,428.30 L315.60,428.50 L316.60,428.79 L317.60,429.16 L318.60,429.60 L319.60,430.07 L320.60,430.58 L321.60,431.09 L322.60,431.56 L323.60,431.96 L324.60,432.29 L325.60,432.53 L326.60,432.68 L327.60,432.75 L328.60,432.75 L329.60,432.71 L330.60,432.65 L331.60,432.60 L332.60,432.58 L333.60,432.62 L334.60,432.74 L335.60,432.94 L336.60,433.23 L337.60,433.60 L338.60,434.05 L339.60,434.54 L340.60,435.06 L341.60,435.58 L342.60,436.07 L343.60,436.50 L344.60,436.86 L345.60,437.13 L346.60,437.32 L347.60,437.42 L348.60,437.45 L349.60,437.42 L350.60,437.36 L351.60,437.30 L352.60,437.27 L353.60,437.28 L354.60,437.37 L355.60,437.53 L356.60,437.79 L357.60,438.14 L358.60,438.56 L359.60,439.03 L360.60,439.55 L361.60,440.07 L362.60,440.57 L363.60,441.03 L364.60,441.42 L365.60,441.73 L366.60,441.94 L367.60,442.08 L368.60,442.13 L369.60,442.12 L370.60,442.07 L371.60,442.01 L372.60,441.96 L373.60,441.96 L374.60,442.01 L375.60,442.15 L376.60,442.37 L377.60,442.68 L378.60,443.07 L379.60,443.53 L380.60,444.03 L381.60,444.55 L382.60,445.07 L383.60,445.54 L384.60,445.96 L385.60,446.30 L386.60,446.56 L387.60,446.72 L388.60,446.76 L389.60,446.62 L390.60,446.44 L391.60,446.23 L392.60,446.03 L393.60,445.85 L394.60,445.74 L395.60,445.69 L396.60,445.73 L397.60,445.86 L398.60,446.07 L399.60,446.36 L400.60,446.67 L401.60,446.74 L402.60,446.81 L403.60,446.85 L404.60,446.84 L405.60,446.76 L406.60,446.60 L407.60,446.35 L408.60,446.01 L409.60,445.60 L410.60,445.07 L411.60,444.46 L412.60,443.85 L413.60,443.25 L414.60,442.71 L415.60,442.23 L416.60,441.83 L417.60,441.52 L418.60,441.30 L419.60,441.16 L420.60,441.08 L421.60,441.03 L422.60,441.00 L423.60,440.96 L424.60,440.87 L425.60,440.72 L426.60,440.49 L427.60,440.17 L428.60,439.76 L429.60,439.28 L430.60,438.72 L431.60,438.13 L432.60,437.52 L433.60,436.91 L434.60,436.34 L435.60,435.84 L436.60,435.41 L437.60,435.06 L438.60,434.81 L439.60,434.64 L440.60,434.53 L441.60,434.48 L442.60,434.45 L443.60,434.41 L444.60,434.34 L445.60,434.22 L446.60,434.02 L447.60,433.74 L448.60,433.37 L449.60,432.91 L450.60,432.38 L451.60,431.80 L452.60,431.19 L453.60,430.58 L454.60,429.99 L455.60,429.46 L456.60,429.00 L457.60,428.62 L458.60,428.33 L459.60,428.13 L460.60,428.00 L461.60,427.93 L462.60,427.89 L463.60,427.86 L464.60,427.81 L465.60,427.71 L466.60,427.54 L467.60,427.29 L468.60,426.95 L469.60,426.53 L470.60,426.02 L471.60,425.46 L472.60,424.86 L473.60,424.24 L474.60,423.65 L475.60,423.09 L476.60,422.60 L477.60,422.19 L478.60,421.86 L479.60,421.63 L480.60,421.48 L481.60,421.39 L482.60,421.34 L483.60,421.31 L484.60,421.27 L485.60,421.19 L486.60,421.05 L487.60,420.83 L488.60,420.53 L489.60,420.14 L490.60,419.66 L491.60,419.12 L492.60,418.53 L493.60,417.91 L494.60,417.31 L495.60,416.73 L496.60,416.21 L497.60,415.77 L498.60,415.41 L499.60,415.14 L500.60,414.96 L501.60,414.85 L502.60,414.79 L503.60,414.75 L504.60,414.72 L505.60,414.67 L506.60,414.56 L507.60,414.39 L508.60,414.13 L509.60,413.79 L510.60,413.35 L511.60,412.85 L512.60,412.28 L513.60,411.69 L514.60,411.09 L515.60,410.51 L516.60,409.98 L517.60,409.52 L518.60,409.14 L519.60,408.85 L520.60,408.64 L521.60,408.52 L522.60,408.45 L523.60,408.42 L524.60,408.41 L525.60,408.37 L526.60,408.29 L527.60,408.15 L528.60,407.92 L529.60,407.61 L530.60,407.21 L531.60,406.73 L532.60,406.19 L533.60,405.60 L534.60,405.00 L535.60,404.41 L536.60,403.86 L537.60,403.37 L538.60,402.95 L539.60,402.63 L540.60,402.39 L541.60,402.24 L542.60,402.15 L543.60,402.11 L544.60,402.09 L545.60,402.07 L546.60,402.01 L547.60,401.89 L548.60,401.70 L549.60,401.42 L550.60,401.06 L551.60,400.60 L552.60,400.08 L553.60,399.51 L554.60,398.91 L555.60,398.31 L556.60,397.74 L557.60,397.23 L558.60,396.78 L559.60,396.42 L560.60,396.15 L561.60,395.97 L562.60,395.86 L563.60,395.80 L564.60,395.78 L565.60,395.76 L566.60,395.72 L567.60,395.63 L568.60,395.46 L569.60,395.22 L570.60,394.89 L571.60,394.47 L572.60,393.97 L573.60,393.42 L574.60,392.82 L575.60,392.22 L576.60,391.64 L577.60,391.10 L578.60,390.63 L579.60,390.23 L580.60,389.93 L581.60,389.71 L582.60,389.57 L583.60,389.50 L584.60,389.47 L585.60,389.45 L586.60,389.42 L587.60,389.35 L588.60,389.22 L589.60,389.01 L590.60,388.71 L591.60,388.32 L592.60,387.85 L593.60,387.32 L594.60,386.74 L595.60,386.13 L596.60,385.54 L597.60,384.98 L598.60,384.48 L599.60,384.05 L600.60,383.72 L601.60,383.47 L602.60,383.30 L603.60,383.20 L604.60,383.16 L605.60,383.13 L606.60,383.10 L607.60,383.03 L608.60,382.92 L609.60,382.73 L610.60,382.45 L611.60,382.09 L612.60,381.64 L613.60,381.12 L614.60,380.54 L615.60,379.93 L616.60,379.32 L617.60,378.73 L618.60,378.20 L619.60,377.73 L620.60,377.35 L621.60,377.05 L622.60,376.84 L623.60,376.71 L624.60,376.64 L625.60,376.60 L626.60,376.57 L627.60,376.52 L628.60,376.43 L629.60,376.27 L630.60,376.03 L631.60,375.70 L632.60,375.28 L633.60,374.78 L634.60,374.22 L635.60,373.63 L636.60,373.01 L637.60,372.41 L638.60,371.86 L639.60,371.36 L640.60,370.94 L641.60,370.61 L642.60,370.37 L643.60,370.21 L644.60,370.12 L645.60,370.07 L646.60,370.04 L647.60,370.00 L648.60,369.93 L649.60,369.80 L650.60,369.59 L651.60,369.29 L652.60,368.91 L653.60,368.44 L654.60,367.90 L655.60,367.32 L656.60,366.71 L657.60,366.10 L658.60,365.52 L659.60,365.00 L660.60,364.55 L661.60,364.19 L662.60,363.91 L663.60,363.72 L664.60,363.60 L665.60,363.54 L666.60,363.51 L667.60,363.48 L668.60,363.42 L669.60,363.31 L670.60,363.14 L671.60,362.88 L672.60,362.53 L673.60,362.09 L674.60,361.58 L675.60,361.01 L676.60,360.40 L677.60,359.79 L678.60,359.20 L679.60,358.65 L680.60,358.17 L681.60,357.77 L682.60,357.46" fill="none" stroke="#a3d6f0" stroke-width="4.3" stroke-linejoin="round"/>
<path d="M33.60,410.50C33.72,411.33 33.92,415.87 34.30,415.50C34.68,415.13 35.23,411.35 35.90,408.30C36.57,405.25 37.50,400.77 38.30,397.20C39.10,393.63 39.97,388.98 40.70,386.90C41.43,384.82 42.03,384.50 42.70,384.70C43.37,384.90 44.03,386.28 44.70,388.10C45.37,389.92 46.12,393.88 46.70,395.60C47.28,397.32 47.62,398.67 48.20,398.40C48.78,398.13 49.47,395.92 50.20,394.00C50.93,392.08 51.80,389.13 52.60,386.90C53.40,384.67 54.27,382.05 55.00,380.60C55.73,379.15 56.13,377.55 57.00,378.20C57.87,378.85 59.15,382.52 60.20,384.50C61.25,386.48 61.98,390.10 63.30,390.10C64.62,390.10 66.63,387.68 68.10,384.50C69.57,381.32 70.78,374.78 72.10,371.00C73.42,367.22 74.82,362.58 76.00,361.80C77.18,361.02 78.13,364.55 79.20,366.30C80.27,368.05 80.95,371.58 82.40,372.30C83.85,373.02 86.18,370.68 87.90,370.60C89.62,370.52 91.23,372.65 92.70,371.80C94.17,370.95 95.38,366.82 96.70,365.50C98.02,364.18 99.28,364.25 100.60,363.90C101.92,363.55 103.27,364.72 104.60,363.40C105.93,362.08 107.42,356.05 108.60,356.00C109.78,355.95 110.52,358.88 111.70,363.10C112.88,367.32 114.63,378.92 115.70,381.30C116.77,383.68 117.03,381.50 118.10,377.40C119.17,373.30 120.95,362.93 122.10,356.70C123.25,350.47 124.13,343.82 125.00,340.00C125.87,336.18 126.60,333.77 127.30,333.80C128.00,333.83 128.47,336.27 129.20,340.20C129.93,344.13 130.88,352.32 131.70,357.40C132.52,362.48 133.15,368.63 134.10,370.70C135.05,372.77 136.38,368.85 137.40,369.80C138.42,370.75 139.25,373.07 140.20,376.40C141.15,379.73 141.98,383.45 143.10,389.80C144.22,396.15 145.63,407.37 146.90,414.50C148.17,421.63 149.58,429.90 150.70,432.60C151.82,435.30 152.48,432.13 153.60,430.70C154.72,429.27 156.30,424.47 157.40,424.00C158.50,423.53 158.93,424.57 160.20,427.90C161.47,431.23 163.57,444.65 165.00,444.00C166.43,443.35 167.53,430.50 168.80,424.00C170.07,417.50 171.65,408.97 172.60,405.00C173.55,401.03 173.70,399.57 174.50,400.20C175.30,400.83 176.28,404.03 177.40,408.80C178.52,413.57 179.77,425.93 181.20,428.80C182.63,431.67 184.57,428.07 186.00,426.00C187.43,423.93 188.53,420.70 189.80,416.40C191.07,412.10 192.50,403.68 193.60,400.20C194.70,396.72 195.45,396.13 196.40,395.50C197.35,394.87 198.35,395.77 199.30,396.40C200.25,397.03 201.15,400.08 202.10,399.30C203.05,398.52 204.03,393.98 205.00,391.70C205.97,389.42 206.78,385.28 207.90,385.60C209.02,385.92 210.43,390.85 211.70,393.60C212.97,396.35 214.40,400.03 215.50,402.10C216.60,404.17 217.32,403.52 218.30,406.00C219.28,408.48 220.45,416.83 221.40,417.00C222.35,417.17 222.92,410.57 224.00,407.00C225.08,403.43 226.85,397.05 227.90,395.60C228.95,394.15 229.37,396.67 230.30,398.30C231.23,399.93 232.43,405.28 233.50,405.40C234.57,405.52 235.72,400.90 236.70,399.00C237.68,397.10 238.62,394.25 239.40,394.00C240.18,393.75 240.45,394.42 241.40,397.50C242.35,400.58 244.03,410.38 245.10,412.50C246.17,414.62 246.90,411.07 247.80,410.20C248.70,409.33 249.45,407.05 250.50,407.30C251.55,407.55 252.70,411.75 254.10,411.70C255.50,411.65 257.65,407.25 258.90,407.00C260.15,406.75 260.55,407.55 261.60,410.20C262.65,412.85 264.20,420.92 265.20,422.90C266.20,424.88 266.67,422.50 267.60,422.10C268.53,421.70 269.73,419.85 270.80,420.50C271.87,421.15 273.08,426.40 274.00,426.00C274.92,425.60 275.52,421.13 276.30,418.10C277.08,415.07 277.90,410.18 278.70,407.80C279.50,405.42 280.17,404.07 281.10,403.80C282.03,403.53 282.85,403.95 284.30,406.20C285.75,408.45 288.48,416.38 289.80,417.30C291.12,418.22 291.27,413.42 292.20,411.70C293.13,409.98 294.47,406.73 295.40,407.00C296.33,407.27 296.87,410.52 297.80,413.30C298.73,416.08 299.95,422.77 301.00,423.70C302.05,424.63 303.05,420.15 304.10,418.90C305.15,417.65 306.10,416.33 307.30,416.20C308.50,416.07 310.23,416.85 311.30,418.10C312.37,419.35 312.92,420.38 313.70,423.70C314.48,427.02 315.32,434.78 316.00,438.00C316.68,441.22 317.10,443.37 317.80,443.00C318.50,442.63 319.50,437.43 320.20,435.80C320.90,434.17 321.27,432.03 322.00,433.20C322.73,434.37 323.73,439.32 324.60,442.80C325.47,446.28 326.33,451.20 327.20,454.10C328.07,457.00 328.92,460.20 329.80,460.20C330.68,460.20 331.62,455.75 332.50,454.10C333.38,452.45 334.23,450.30 335.10,450.30C335.97,450.30 336.83,452.83 337.70,454.10C338.57,455.37 339.43,458.63 340.30,457.90C341.17,457.17 342.03,452.67 342.90,449.70C343.77,446.73 344.77,441.83 345.50,440.10C346.23,438.37 346.57,438.37 347.30,439.30C348.03,440.23 349.03,444.33 349.90,445.70C350.77,447.07 351.63,447.62 352.50,447.50C353.37,447.38 354.22,445.78 355.10,445.00C355.98,444.22 356.87,442.15 357.80,442.80C358.73,443.45 359.68,448.77 360.70,448.90C361.72,449.03 362.78,444.33 363.90,443.60C365.02,442.87 366.30,445.95 367.40,444.50C368.50,443.05 369.63,438.53 370.50,434.90C371.37,431.27 371.97,425.47 372.60,422.70C373.23,419.93 373.57,417.72 374.30,418.30C375.03,418.88 375.98,422.27 377.00,426.20C378.02,430.13 379.38,439.72 380.40,441.90C381.42,444.08 382.07,440.47 383.10,439.30C384.13,438.13 385.73,435.48 386.60,434.90C387.47,434.32 387.73,434.05 388.30,435.80C388.87,437.55 389.27,440.60 390.00,445.40C390.73,450.20 391.53,459.08 392.70,464.60C393.87,470.12 395.70,473.85 397.00,478.50C398.30,483.15 399.48,488.28 400.50,492.50C401.52,496.72 402.45,501.53 403.10,503.80C403.75,506.07 403.82,506.82 404.40,506.10C404.98,505.38 405.80,502.63 406.60,499.50C407.40,496.37 408.32,490.80 409.20,487.30C410.08,483.80 411.08,480.58 411.90,478.50C412.72,476.42 413.22,476.43 414.10,474.80C414.98,473.17 416.17,472.98 417.20,468.70C418.23,464.42 419.10,454.78 420.30,449.10C421.50,443.42 422.85,439.42 424.40,434.60C425.95,429.78 428.05,423.47 429.60,420.20C431.15,416.93 432.32,416.73 433.70,415.00C435.08,413.27 436.52,411.87 437.90,409.80C439.28,407.73 440.80,403.28 442.00,402.60C443.20,401.92 444.07,401.40 445.10,405.70C446.13,410.00 447.00,420.83 448.20,428.40C449.40,435.97 450.93,447.65 452.30,451.10C453.67,454.55 455.20,449.78 456.40,449.10C457.60,448.42 458.37,448.45 459.50,447.00C460.63,445.55 461.82,440.57 463.20,440.40C464.58,440.23 466.35,447.32 467.80,446.00C469.25,444.68 470.70,435.08 471.90,432.50C473.10,429.92 473.97,430.50 475.00,430.50C476.03,430.50 477.07,435.60 478.10,432.50C479.13,429.40 480.17,417.40 481.20,411.90C482.23,406.40 483.10,402.42 484.30,399.50C485.50,396.58 487.20,398.18 488.40,394.40C489.60,390.62 490.47,382.13 491.50,376.80C492.53,371.47 493.57,364.47 494.60,362.40C495.63,360.33 496.67,362.68 497.70,364.40C498.73,366.12 499.67,372.00 500.80,372.70C501.93,373.40 503.53,368.95 504.50,368.60C505.47,368.25 505.85,368.42 506.60,370.60C507.35,372.78 508.08,377.47 509.00,381.70C509.92,385.93 511.13,392.15 512.10,396.00C513.07,399.85 514.00,403.87 514.80,404.80C515.60,405.73 516.20,402.75 516.90,401.60C517.60,400.45 518.33,397.77 519.00,397.90C519.67,398.03 520.18,400.20 520.90,402.40C521.62,404.60 522.38,409.25 523.30,411.10C524.22,412.95 525.22,412.57 526.40,413.50C527.58,414.43 529.20,417.10 530.40,416.70C531.60,416.30 532.55,413.22 533.60,411.10C534.65,408.98 535.78,405.67 536.70,404.00C537.62,402.33 538.30,401.10 539.10,401.10C539.90,401.10 540.57,401.67 541.50,404.00C542.43,406.33 543.63,412.33 544.70,415.10C545.77,417.87 546.85,420.07 547.90,420.60C548.95,421.13 549.95,420.02 551.00,418.30C552.05,416.58 553.27,412.55 554.20,410.30C555.13,408.05 555.80,405.58 556.60,404.80C557.40,404.02 558.22,405.60 559.00,405.60C559.78,405.60 560.52,406.92 561.30,404.80C562.08,402.68 562.90,396.35 563.70,392.90C564.50,389.45 565.30,385.83 566.10,384.10C566.90,382.37 567.70,383.28 568.50,382.50C569.30,381.72 569.85,380.90 570.90,379.40C571.95,377.90 573.75,374.03 574.80,373.50C575.85,372.97 576.40,373.77 577.20,376.20C578.00,378.63 578.67,384.58 579.60,388.10C580.53,391.62 581.73,395.98 582.80,397.30C583.87,398.62 584.82,397.00 586.00,396.00C587.18,395.00 588.72,392.22 589.90,391.30C591.08,390.38 592.03,390.37 593.10,390.50C594.17,390.63 595.32,391.92 596.30,392.10C597.28,392.28 598.03,391.72 599.00,391.60C599.97,391.48 600.87,391.15 602.10,391.40C603.33,391.65 605.20,393.82 606.40,393.10C607.60,392.38 608.35,389.28 609.30,387.10C610.25,384.92 611.15,381.90 612.10,380.00C613.05,378.10 614.03,376.30 615.00,375.70C615.97,375.10 616.95,375.33 617.90,376.40C618.85,377.47 619.52,380.55 620.70,382.10C621.88,383.65 623.85,384.33 625.00,385.70C626.15,387.07 626.77,390.07 627.60,390.30C628.43,390.53 629.12,387.63 630.00,387.10C630.88,386.57 631.95,387.28 632.90,387.10C633.85,386.92 634.63,386.28 635.70,386.00C636.77,385.72 638.23,385.92 639.30,385.40C640.37,384.88 641.20,383.80 642.10,382.90C643.00,382.00 643.87,379.77 644.70,380.00C645.53,380.23 646.28,383.30 647.10,384.30C647.92,385.30 648.88,387.20 649.60,386.00C650.32,384.80 650.73,381.20 651.40,377.10C652.07,373.00 652.88,366.52 653.60,361.40C654.32,356.28 654.98,349.85 655.70,346.40C656.42,342.95 657.12,341.53 657.90,340.70C658.68,339.87 659.50,340.45 660.40,341.40C661.30,342.35 662.42,346.15 663.30,346.40C664.18,346.65 664.90,343.62 665.70,342.90C666.50,342.18 667.32,341.40 668.10,342.10C668.88,342.80 669.60,343.88 670.40,347.10C671.20,350.32 672.13,355.92 672.90,361.40C673.67,366.88 674.30,375.00 675.00,380.00C675.70,385.00 676.38,390.22 677.10,391.40C677.82,392.58 678.58,391.15 679.30,387.10C680.02,383.05 680.80,373.05 681.40,367.10C682.00,361.15 682.65,354.02 682.90,351.40" fill="none" stroke="#2360b4" stroke-width="2.1" stroke-linejoin="round" stroke-linecap="round"/>
<path d="M33.60,371.28 L34.60,371.77 L35.60,372.27 L36.60,372.74 L37.60,373.16 L38.60,373.51 L39.60,373.78 L40.60,373.96 L41.60,374.05 L42.60,374.07 L43.60,374.03 L44.60,373.95 L45.60,373.87 L46.60,373.80 L47.60,373.78 L48.60,373.82 L49.60,373.95 L50.60,374.16 L51.60,374.47 L52.60,374.85 L53.60,375.29 L54.60,375.77 L55.60,376.27 L56.60,376.75 L57.60,377.20 L58.60,377.58 L59.60,377.88 L60.60,378.10 L61.60,378.22 L62.60,378.27 L63.60,378.24 L64.60,378.18 L65.60,378.09 L66.60,378.02 L67.60,377.97 L68.60,377.99 L69.60,378.08 L70.60,378.26 L71.60,378.53 L72.60,378.88 L73.60,379.31 L74.60,379.78 L75.60,380.27 L76.60,380.76 L77.60,381.23 L78.60,381.63 L79.60,381.97 L80.60,382.22 L81.60,382.38 L82.60,382.45 L83.60,382.45 L84.60,382.40 L85.60,382.32 L86.60,382.24 L87.60,382.18 L88.60,382.17 L89.60,382.23 L90.60,382.38 L91.60,382.61 L92.60,382.93 L93.60,383.33 L94.60,383.78 L95.60,384.27 L96.60,384.77 L97.60,385.25 L98.60,385.68 L99.60,386.04 L100.60,386.33 L101.60,386.52 L102.60,386.62 L103.60,386.65 L104.60,386.62 L105.60,386.55 L106.60,386.46 L107.60,386.39 L108.60,386.36 L109.60,386.39 L110.60,386.50 L111.60,386.70 L112.60,386.99 L113.60,387.36 L114.60,387.80 L115.60,388.28 L116.60,388.77 L117.60,389.26 L118.60,389.71 L119.60,390.10 L120.60,390.42 L121.60,390.65 L122.60,390.79 L123.60,390.84 L124.60,390.83 L125.60,390.77 L126.60,390.70 L127.60,390.62 L128.60,390.58 L129.60,390.60 L130.60,390.68 L131.60,390.86 L132.60,391.12 L133.60,391.47 L134.60,391.89 L135.60,392.36 L136.60,392.86 L137.60,393.36 L138.60,393.84 L139.60,394.26 L140.60,394.61 L141.60,394.88 L142.60,395.07 L143.60,395.16 L144.60,395.18 L145.60,395.14 L146.60,395.07 L147.60,394.99 L148.60,394.94 L149.60,394.93 L150.60,394.98 L151.60,395.12 L152.60,395.35 L153.60,395.66 L154.60,396.06 L155.60,396.51 L156.60,397.01 L157.60,397.51 L158.60,398.00 L159.60,398.45 L160.60,398.83 L161.60,399.13 L162.60,399.35 L163.60,399.48 L164.60,399.52 L165.60,399.50 L166.60,399.44 L167.60,399.36 L168.60,399.30 L169.60,399.26 L170.60,399.29 L171.60,399.40 L172.60,399.59 L173.60,399.87 L174.60,400.24 L175.60,400.67 L176.60,401.15 L177.60,401.66 L178.60,402.16 L179.60,402.62 L180.60,403.03 L181.60,403.37 L182.60,403.62 L183.60,403.78 L184.60,403.85 L185.60,403.86 L186.60,403.81 L187.60,403.74 L188.60,403.66 L189.60,403.61 L190.60,403.62 L191.60,403.69 L192.60,403.85 L193.60,404.10 L194.60,404.43 L195.60,404.84 L196.60,405.31 L197.60,405.80 L198.60,406.31 L199.60,406.79 L200.60,407.22 L201.60,407.59 L202.60,407.87 L203.60,408.07 L204.60,408.18 L205.60,408.21 L206.60,408.18 L207.60,408.11 L208.60,408.03 L209.60,407.97 L210.60,407.95 L211.60,407.99 L212.60,408.12 L213.60,408.33 L214.60,408.64 L215.60,409.02 L216.60,409.46 L217.60,409.95 L218.60,410.46 L219.60,410.95 L220.60,411.41 L221.60,411.80 L222.60,412.12 L223.60,412.35 L224.60,412.49 L225.60,412.54 L226.60,412.51 L227.60,412.44 L228.60,412.34 L229.60,412.25 L230.60,412.20 L231.60,412.20 L232.60,412.27 L233.60,412.43 L234.60,412.69 L235.60,413.02 L236.60,413.43 L237.60,413.89 L238.60,414.37 L239.60,414.85 L240.60,415.31 L241.60,415.71 L242.60,416.04 L243.60,416.29 L244.60,416.45 L245.60,416.52 L246.60,416.52 L247.60,416.46 L248.60,416.37 L249.60,416.28 L250.60,416.20 L251.60,416.18 L252.60,416.22 L253.60,416.35 L254.60,416.57 L255.60,416.87 L256.60,417.26 L257.60,417.70 L258.60,418.17 L259.60,418.66 L260.60,419.13 L261.60,419.56 L262.60,419.92 L263.60,420.20 L264.60,420.39 L265.60,420.49 L266.60,420.52 L267.60,420.48 L268.60,420.40 L269.60,420.30 L270.60,420.22 L271.60,420.17 L272.60,420.19 L273.60,420.28 L274.60,420.47 L275.60,420.74 L276.60,421.09 L277.60,421.51 L278.60,421.98 L279.60,422.46 L280.60,422.94 L281.60,423.39 L282.60,423.78 L283.60,424.09 L284.60,424.32 L285.60,424.46 L286.60,424.51 L287.60,424.49 L288.60,424.42 L289.60,424.33 L290.60,424.24 L291.60,424.18 L292.60,424.17 L293.60,424.23 L294.60,424.38 L295.60,424.61 L296.60,424.94 L297.60,425.33 L298.60,425.79 L299.60,426.27 L300.60,426.75 L301.60,427.21 L302.60,427.63 L303.60,427.97 L304.60,428.23 L305.60,428.40 L306.60,428.49 L307.60,428.50 L308.60,428.45 L309.60,428.36 L310.60,428.26 L311.60,428.19 L312.60,428.15 L313.60,428.19 L314.60,428.30 L315.60,428.50 L316.60,428.79 L317.60,429.16 L318.60,429.60 L319.60,430.07 L320.60,430.58 L321.60,431.09 L322.60,431.56 L323.60,431.96 L324.60,432.29 L325.60,432.53 L326.60,432.68 L327.60,432.75 L328.60,432.75 L329.60,432.71 L330.60,432.65 L331.60,432.60 L332.60,432.58 L333.60,432.62 L334.60,432.74 L335.60,432.94 L336.60,433.23 L337.60,433.60 L338.60,434.05 L339.60,434.54 L340.60,435.06 L341.60,435.58 L342.60,436.07 L343.60,436.50 L344.60,436.86 L345.60,437.13 L346.60,437.32 L347.60,437.42 L348.60,437.45 L349.60,437.42 L350.60,437.36 L351.60,437.30 L352.60,437.27 L353.60,437.28 L354.60,437.37 L355.60,437.53 L356.60,437.79 L357.60,438.14 L358.60,438.56 L359.60,439.03 L360.60,439.55 L361.60,440.07 L362.60,440.57 L363.60,441.03 L364.60,441.42 L365.60,441.73 L366.60,441.94 L367.60,442.08 L368.60,442.13 L369.60,442.12 L370.60,442.07 L371.60,442.01 L372.60,441.96 L373.60,441.96 L374.60,442.01 L375.60,442.15 L376.60,442.37 L377.60,442.68 L378.60,443.07 L379.60,443.53 L380.60,444.03 L381.60,444.55 L382.60,445.07 L383.60,445.54 L384.60,445.96 L385.60,446.30 L386.60,446.56 L387.60,446.72 L388.60,446.76 L389.60,446.62 L390.60,446.44 L391.60,446.23 L392.60,446.03 L393.60,445.85 L394.60,445.74 L395.60,445.69 L396.60,445.73 L397.60,445.86 L398.60,446.07 L399.60,446.36 L400.60,446.67 L401.60,446.74 L402.60,446.81 L403.60,446.85 L404.60,446.84 L405.60,446.76 L406.60,446.60 L407.60,446.35 L408.60,446.01 L409.60,445.60 L410.60,445.07 L411.60,444.46 L412.60,443.85 L413.60,443.25 L414.60,442.71 L415.60,442.23 L416.60,441.83 L417.60,441.52 L418.60,441.30 L419.60,441.16 L420.60,441.08 L421.60,441.03 L422.60,441.00 L423.60,440.96 L424.60,440.87 L425.60,440.72 L426.60,440.49 L427.60,440.17 L428.60,439.76 L429.60,439.28 L430.60,438.72 L431.60,438.13 L432.60,437.52 L433.60,436.91 L434.60,436.34 L435.60,435.84 L436.60,435.41 L437.60,435.06 L438.60,434.81 L439.60,434.64 L440.60,434.53 L441.60,434.48 L442.60,434.45 L443.60,434.41 L444.60,434.34 L445.60,434.22 L446.60,434.02 L447.60,433.74 L448.60,433.37 L449.60,432.91 L450.60,432.38 L451.60,431.80 L452.60,431.19 L453.60,430.58 L454.60,429.99 L455.60,429.46 L456.60,429.00 L457.60,428.62 L458.60,428.33 L459.60,428.13 L460.60,428.00 L461.60,427.93 L462.60,427.89 L463.60,427.86 L464.60,427.81 L465.60,427.71 L466.60,427.54 L467.60,427.29 L468.60,426.95 L469.60,426.53 L470.60,426.02 L471.60,425.46 L472.60,424.86 L473.60,424.24 L474.60,423.65 L475.60,423.09 L476.60,422.60 L477.60,422.19 L478.60,421.86 L479.60,421.63 L480.60,421.48 L481.60,421.39 L482.60,421.34 L483.60,421.31 L484.60,421.27 L485.60,421.19 L486.60,421.05 L487.60,420.83 L488.60,420.53 L489.60,420.14 L490.60,419.66 L491.60,419.12 L492.60,418.53 L493.60,417.91 L494.60,417.31 L495.60,416.73 L496.60,416.21 L497.60,415.77 L498.60,415.41 L499.60,415.14 L500.60,414.96 L501.60,414.85 L502.60,414.79 L503.60,414.75 L504.60,414.72 L505.60,414.67 L506.60,414.56 L507.60,414.39 L508.60,414.13 L509.60,413.79 L510.60,413.35 L511.60,412.85 L512.60,412.28 L513.60,411.69 L514.60,411.09 L515.60,410.51 L516.60,409.98 L517.60,409.52 L518.60,409.14 L519.60,408.85 L520.60,408.64 L521.60,408.52 L522.60,408.45 L523.60,408.42 L524.60,408.41 L525.60,408.37 L526.60,408.29 L527.60,408.15 L528.60,407.92 L529.60,407.61 L530.60,407.21 L531.60,406.73 L532.60,406.19 L533.60,405.60 L534.60,405.00 L535.60,404.41 L536.60,403.86 L537.60,403.37 L538.60,402.95 L539.60,402.63 L540.60,402.39 L541.60,402.24 L542.60,402.15 L543.60,402.11 L544.60,402.09 L545.60,402.07 L546.60,402.01 L547.60,401.89 L548.60,401.70 L549.60,401.42 L550.60,401.06 L551.60,400.60 L552.60,400.08 L553.60,399.51 L554.60,398.91 L555.60,398.31 L556.60,397.74 L557.60,397.23 L558.60,396.78 L559.60,396.42 L560.60,396.15 L561.60,395.97 L562.60,395.86 L563.60,395.80 L564.60,395.78 L565.60,395.76 L566.60,395.72 L567.60,395.63 L568.60,395.46 L569.60,395.22 L570.60,394.89 L571.60,394.47 L572.60,393.97 L573.60,393.42 L574.60,392.82 L575.60,392.22 L576.60,391.64 L577.60,391.10 L578.60,390.63 L579.60,390.23 L580.60,389.93 L581.60,389.71 L582.60,389.57 L583.60,389.50 L584.60,389.47 L585.60,389.45 L586.60,389.42 L587.60,389.35 L588.60,389.22 L589.60,389.01 L590.60,388.71 L591.60,388.32 L592.60,387.85 L593.60,387.32 L594.60,386.74 L595.60,386.13 L596.60,385.54 L597.60,384.98 L598.60,384.48 L599.60,384.05 L600.60,383.72 L601.60,383.47 L602.60,383.30 L603.60,383.20 L604.60,383.16 L605.60,383.13 L606.60,383.10 L607.60,383.03 L608.60,382.92 L609.60,382.73 L610.60,382.45 L611.60,382.09 L612.60,381.64 L613.60,381.12 L614.60,380.54 L615.60,379.93 L616.60,379.32 L617.60,378.73 L618.60,378.20 L619.60,377.73 L620.60,377.35 L621.60,377.05 L622.60,376.84 L623.60,376.71 L624.60,376.64 L625.60,376.60 L626.60,376.57 L627.60,376.52 L628.60,376.43 L629.60,376.27 L630.60,376.03 L631.60,375.70 L632.60,375.28 L633.60,374.78 L634.60,374.22 L635.60,373.63 L636.60,373.01 L637.60,372.41 L638.60,371.86 L639.60,371.36 L640.60,370.94 L641.60,370.61 L642.60,370.37 L643.60,370.21 L644.60,370.12 L645.60,370.07 L646.60,370.04 L647.60,370.00 L648.60,369.93 L649.60,369.80 L650.60,369.59 L651.60,369.29 L652.60,368.91 L653.60,368.44 L654.60,367.90 L655.60,367.32 L656.60,366.71 L657.60,366.10 L658.60,365.52 L659.60,365.00 L660.60,364.55 L661.60,364.19 L662.60,363.91 L663.60,363.72 L664.60,363.60 L665.60,363.54 L666.60,363.51 L667.60,363.48 L668.60,363.42 L669.60,363.31 L670.60,363.14 L671.60,362.88 L672.60,362.53 L673.60,362.09 L674.60,361.58 L675.60,361.01 L676.60,360.40 L677.60,359.79 L678.60,359.20 L679.60,358.65 L680.60,358.17 L681.60,357.77 L682.60,357.46" fill="none" stroke="#f76d12" stroke-width="2.4" stroke-linejoin="round"/>
</g>
<rect x="38.70" y="462.60" width="82.00" height="46.50" rx="2" ry="2" fill="#ffffff" fill-opacity="0.8" stroke="#dcdcdc" stroke-width="0.9"/>
<line x1="41.30" y1="473.80" x2="63.90" y2="473.80" stroke="#2360b4" stroke-width="2"/>
<line x1="41.30" y1="497.00" x2="63.90" y2="497.00" stroke="#f76d12" stroke-width="2"/>
<rect x="383.40" y="601.93" width="1.25" height="1.57" fill="#97bac6"/>
<rect x="384.60" y="601.33" width="1.25" height="2.17" fill="#97bac6"/>
<rect x="385.80" y="600.84" width="1.25" height="2.66" fill="#97bac6"/>
<rect x="387.00" y="600.12" width="1.25" height="3.38" fill="#97bac6"/>
<rect x="388.20" y="598.86" width="1.25" height="4.64" fill="#97bac6"/>
<rect x="389.40" y="597.27" width="1.25" height="6.23" fill="#97bac6"/>
<rect x="390.60" y="594.70" width="1.25" height="8.80" fill="#97bac6"/>
<rect x="391.80" y="590.11" width="1.25" height="13.39" fill="#97bac6"/>
<rect x="393.00" y="586.80" width="1.25" height="16.70" fill="#97bac6"/>
<rect x="394.20" y="581.75" width="1.25" height="21.75" fill="#97bac6"/>
<rect x="395.40" y="572.32" width="1.25" height="31.18" fill="#97bac6"/>
<rect x="396.60" y="567.63" width="1.25" height="35.87" fill="#97bac6"/>
<rect x="397.80" y="558.61" width="1.25" height="44.89" fill="#97bac6"/>
<rect x="399.00" y="555.13" width="1.25" height="48.37" fill="#97bac6"/>
<rect x="400.20" y="550.27" width="1.25" height="53.23" fill="#97bac6"/>
<rect x="401.40" y="552.62" width="1.25" height="50.88" fill="#97bac6"/>
<rect x="402.60" y="551.54" width="1.25" height="51.96" fill="#97bac6"/>
<rect x="403.80" y="557.11" width="1.25" height="46.39" fill="#97bac6"/>
<rect x="405.00" y="569.06" width="1.25" height="34.44" fill="#97bac6"/>
<rect x="406.20" y="578.44" width="1.25" height="25.06" fill="#97bac6"/>
<rect x="407.40" y="587.12" width="1.25" height="16.38" fill="#97bac6"/>
<rect x="408.60" y="594.03" width="1.25" height="9.47" fill="#97bac6"/>
<rect x="409.80" y="596.59" width="1.25" height="6.91" fill="#97bac6"/>
<rect x="411.00" y="599.57" width="1.25" height="3.93" fill="#97bac6"/>
<rect x="412.20" y="601.14" width="1.25" height="2.36" fill="#97bac6"/>
<rect x="413.40" y="602.15" width="1.25" height="1.35" fill="#97bac6"/>
<line x1="385.80" y1="601.33" x2="385.80" y2="603.50" stroke="#cfeef8" stroke-width="0.7"/>
<line x1="388.20" y1="600.12" x2="388.20" y2="603.50" stroke="#cfeef8" stroke-width="0.7"/>
<line x1="390.60" y1="597.27" x2="390.60" y2="603.50" stroke="#cfeef8" stroke-width="0.7"/>
<line x1="393.00" y1="590.11" x2="393.00" y2="603.50" stroke="#cfeef8" stroke-width="0.7"/>
<line x1="395.40" y1="581.75" x2="395.40" y2="603.50" stroke="#cfeef8" stroke-width="0.7"/>
<line x1="397.80" y1="567.63" x2="397.80" y2="603.50" stroke="#cfeef8" stroke-width="0.7"/>
<line x1="400.20" y1="555.13" x2="400.20" y2="603.50" stroke="#cfeef8" stroke-width="0.7"/>
<line x1="402.60" y1="552.62" x2="402.60" y2="603.50" stroke="#cfeef8" stroke-width="0.7"/>
<line x1="405.00" y1="569.06" x2="405.00" y2="603.50" stroke="#cfeef8" stroke-width="0.7"/>
<line x1="407.40" y1="587.12" x2="407.40" y2="603.50" stroke="#cfeef8" stroke-width="0.7"/>
<line x1="409.80" y1="596.59" x2="409.80" y2="603.50" stroke="#cfeef8" stroke-width="0.7"/>
<line x1="412.20" y1="601.14" x2="412.20" y2="603.50" stroke="#cfeef8" stroke-width="0.7"/>
<path d="M374.00,603.20C374.47,603.15 375.80,603.00 376.80,602.90C377.80,602.80 378.85,602.75 380.00,602.60C381.15,602.45 382.70,602.27 383.70,602.00C384.70,601.73 385.23,601.37 386.00,601.00C386.77,600.63 387.55,600.63 388.30,599.80C389.05,598.97 389.75,597.70 390.50,596.00C391.25,594.30 392.12,591.93 392.80,589.60C393.48,587.27 394.02,584.82 394.60,582.00C395.18,579.18 395.77,575.70 396.30,572.70C396.83,569.70 397.33,566.67 397.80,564.00C398.27,561.33 398.63,558.78 399.10,556.70C399.57,554.62 400.12,552.62 400.60,551.50C401.08,550.38 401.57,549.83 402.00,550.00C402.43,550.17 402.83,551.20 403.20,552.50C403.57,553.80 403.85,555.47 404.20,557.80C404.55,560.13 404.92,563.27 405.30,566.50C405.68,569.73 406.05,573.70 406.50,577.20C406.95,580.70 407.52,584.63 408.00,587.50C408.48,590.37 408.82,592.40 409.40,594.40C409.98,596.40 410.83,598.27 411.50,599.50C412.17,600.73 412.65,601.23 413.40,601.80C414.15,602.37 415.15,602.65 416.00,602.90C416.85,603.15 418.08,603.23 418.50,603.30" fill="none" stroke="#7acfec" stroke-width="1.1" stroke-linejoin="round"/>
<line x1="400.60" y1="541.80" x2="400.60" y2="603.50" stroke="#5a5a5a" stroke-width="0.9" stroke-dasharray="3.9,1.95"/>
<path d="M33.20,539.80 L33.20,603.50 L684.00,603.50" fill="none" stroke="#555555" stroke-width="1.15"/>
<line x1="74.00" y1="603.50" x2="74.00" y2="606.60" stroke="#555555" stroke-width="0.95"/>
<line x1="175.92" y1="603.50" x2="175.92" y2="606.60" stroke="#555555" stroke-width="0.95"/>
<line x1="277.84" y1="603.50" x2="277.84" y2="606.60" stroke="#555555" stroke-width="0.95"/>
<line x1="379.76" y1="603.50" x2="379.76" y2="606.60" stroke="#555555" stroke-width="0.95"/>
<line x1="481.68" y1="603.50" x2="481.68" y2="606.60" stroke="#555555" stroke-width="0.95"/>
<line x1="583.60" y1="603.50" x2="583.60" y2="606.60" stroke="#555555" stroke-width="0.95"/>
<line x1="30.20" y1="603.30" x2="33.20" y2="603.30" stroke="#555555" stroke-width="0.95"/>
<line x1="30.20" y1="573.20" x2="33.20" y2="573.20" stroke="#555555" stroke-width="0.95"/>
<line x1="30.20" y1="543.00" x2="33.20" y2="543.00" stroke="#555555" stroke-width="0.95"/>
</g>
<g>
<text x="0.00" y="0.00" font-size="9.2" text-anchor="end" font-weight="normal" fill="#000000" transform="translate(29.40 194.40) scale(0.9300 1)" stroke="#000000" stroke-width="0.18">0</text>
<text x="0.00" y="0.00" font-size="9.2" text-anchor="end" font-weight="normal" fill="#000000" transform="translate(29.40 165.25) scale(0.9300 1)" stroke="#000000" stroke-width="0.18">20</text>
<text x="0.00" y="0.00" font-size="9.2" text-anchor="end" font-weight="normal" fill="#000000" transform="translate(29.40 136.10) scale(0.9300 1)" stroke="#000000" stroke-width="0.18">40</text>
<text x="0.00" y="0.00" font-size="9.2" text-anchor="end" font-weight="normal" fill="#000000" transform="translate(29.40 106.95) scale(0.9300 1)" stroke="#000000" stroke-width="0.18">60</text>
<text x="0.00" y="0.00" font-size="9.2" text-anchor="end" font-weight="normal" fill="#000000" transform="translate(29.40 77.80) scale(0.9300 1)" stroke="#000000" stroke-width="0.18">80</text>
<text x="0.00" y="0.00" font-size="9.2" text-anchor="end" font-weight="normal" fill="#000000" transform="translate(29.40 48.65) scale(0.9300 1)" stroke="#000000" stroke-width="0.18">100</text>
<text x="0.00" y="0.00" font-size="9.2" text-anchor="end" font-weight="normal" fill="#000000" transform="translate(29.40 19.50) scale(0.9300 1)" stroke="#000000" stroke-width="0.18">120</text>
<text x="0.00" y="0.00" font-size="10.2" text-anchor="middle" font-weight="normal" fill="#000000" transform="translate(9.00 104.60) rotate(-90)" letter-spacing="1.1" stroke="#000000" stroke-width="0.1">mm</text>
<text x="33.50" y="6.70" font-size="11.3" text-anchor="start" font-weight="bold" fill="#000000" stroke="#000000" stroke-width="0.1">a</text>
<text x="0.00" y="0.00" font-size="16.2" text-anchor="start" font-weight="normal" fill="#000000" transform="translate(68.00 31.30) scale(1.0600 1)" stroke="#000000" stroke-width="0.12">GMSL</text>
<text x="0.00" y="0.00" font-size="16.2" text-anchor="start" font-weight="normal" fill="#000000" transform="translate(67.80 53.00) scale(1.0918 1)" stroke="#000000" stroke-width="0.12">model</text>
<text x="0.00" y="0.00" font-size="9.2" text-anchor="middle" font-weight="normal" fill="#000000" transform="translate(73.50 300.50) scale(0.9300 1)" stroke="#000000" stroke-width="0.18">1995</text>
<text x="0.00" y="0.00" font-size="9.2" text-anchor="middle" font-weight="normal" fill="#000000" transform="translate(175.42 300.50) scale(0.9300 1)" stroke="#000000" stroke-width="0.18">2000</text>
<text x="0.00" y="0.00" font-size="9.2" text-anchor="middle" font-weight="normal" fill="#000000" transform="translate(277.34 300.50) scale(0.9300 1)" stroke="#000000" stroke-width="0.18">2005</text>
<text x="0.00" y="0.00" font-size="9.2" text-anchor="middle" font-weight="normal" fill="#000000" transform="translate(379.26 300.50) scale(0.9300 1)" stroke="#000000" stroke-width="0.18">2010</text>
<text x="0.00" y="0.00" font-size="9.2" text-anchor="middle" font-weight="normal" fill="#000000" transform="translate(481.18 300.50) scale(0.9300 1)" stroke="#000000" stroke-width="0.18">2015</text>
<text x="0.00" y="0.00" font-size="9.2" text-anchor="middle" font-weight="normal" fill="#000000" transform="translate(583.10 300.50) scale(0.9300 1)" stroke="#000000" stroke-width="0.18">2020</text>
<text x="0.00" y="0.00" font-size="9.2" text-anchor="end" font-weight="normal" fill="#000000" transform="translate(29.40 291.50) scale(0.9300 1)" stroke="#000000" stroke-width="0.18">0</text>
<text x="0.00" y="0.00" font-size="9.2" text-anchor="end" font-weight="normal" fill="#000000" transform="translate(29.40 260.70) scale(0.9300 1)" stroke="#000000" stroke-width="0.18">1</text>
<text x="0.00" y="0.00" font-size="9.2" text-anchor="end" font-weight="normal" fill="#000000" transform="translate(29.40 229.90) scale(0.9300 1)" stroke="#000000" stroke-width="0.18">2</text>
<text x="0.00" y="0.00" font-size="10.2" text-anchor="middle" font-weight="normal" fill="#000000" transform="translate(18.00 258.60) rotate(-90)" stroke="#000000" stroke-width="0.1">Density</text>
<text x="33.20" y="221.90" font-size="11.3" text-anchor="start" font-weight="bold" fill="#000000" stroke="#000000" stroke-width="0.1">b</text>
<text x="0.00" y="0.00" font-size="10.5" text-anchor="middle" font-weight="normal" fill="#000000" transform="translate(358.00 221.30) scale(1.0350 1)" stroke="#000000" stroke-width="0.1">Change point - posterior distribution</text>
<text x="0.00" y="0.00" font-size="9.2" text-anchor="end" font-weight="normal" fill="#000000" transform="translate(29.00 347.10) scale(0.9300 1)" stroke="#000000" stroke-width="0.18">7.5</text>
<text x="0.00" y="0.00" font-size="9.2" text-anchor="end" font-weight="normal" fill="#000000" transform="translate(29.00 368.87) scale(0.9300 1)" stroke="#000000" stroke-width="0.18">5.0</text>
<text x="0.00" y="0.00" font-size="9.2" text-anchor="end" font-weight="normal" fill="#000000" transform="translate(29.00 390.64) scale(0.9300 1)" stroke="#000000" stroke-width="0.18">2.5</text>
<text x="0.00" y="0.00" font-size="9.2" text-anchor="end" font-weight="normal" fill="#000000" transform="translate(29.00 412.41) scale(0.9300 1)" stroke="#000000" stroke-width="0.18">0.0</text>
<text x="0.00" y="0.00" font-size="9.2" text-anchor="end" font-weight="normal" fill="#000000" transform="translate(29.00 434.18) scale(0.9300 1)" stroke="#000000" stroke-width="0.18">-2.5</text>
<text x="0.00" y="0.00" font-size="9.2" text-anchor="end" font-weight="normal" fill="#000000" transform="translate(29.00 455.96) scale(0.9300 1)" stroke="#000000" stroke-width="0.18">-5.0</text>
<text x="0.00" y="0.00" font-size="9.2" text-anchor="end" font-weight="normal" fill="#000000" transform="translate(29.00 477.73) scale(0.9300 1)" stroke="#000000" stroke-width="0.18">-7.5</text>
<text x="0.00" y="0.00" font-size="9.2" text-anchor="end" font-weight="normal" fill="#000000" transform="translate(29.00 499.50) scale(0.9300 1)" stroke="#000000" stroke-width="0.18">-10.0</text>
<text x="0.00" y="0.00" font-size="10.2" text-anchor="middle" font-weight="normal" fill="#000000" transform="translate(6.90 416.40) rotate(-90)" letter-spacing="1.1" stroke="#000000" stroke-width="0.1">mm</text>
<text x="32.90" y="320.20" font-size="11.3" text-anchor="start" font-weight="bold" fill="#000000" stroke="#000000" stroke-width="0.1">c</text>
<text x="0.00" y="0.00" font-size="16.2" text-anchor="start" font-weight="normal" fill="#000000" transform="translate(67.40 479.30) scale(1.0600 1)" stroke="#000000" stroke-width="0.12">GMSL</text>
<text x="0.00" y="0.00" font-size="16.2" text-anchor="start" font-weight="normal" fill="#000000" transform="translate(67.20 502.30) scale(1.0918 1)" stroke="#000000" stroke-width="0.12">model</text>
<text x="0.00" y="0.00" font-size="9.2" text-anchor="middle" font-weight="normal" fill="#000000" transform="translate(73.50 615.90) scale(0.9300 1)" stroke="#000000" stroke-width="0.18">1995</text>
<text x="0.00" y="0.00" font-size="9.2" text-anchor="middle" font-weight="normal" fill="#000000" transform="translate(175.42 615.90) scale(0.9300 1)" stroke="#000000" stroke-width="0.18">2000</text>
<text x="0.00" y="0.00" font-size="9.2" text-anchor="middle" font-weight="normal" fill="#000000" transform="translate(277.34 615.90) scale(0.9300 1)" stroke="#000000" stroke-width="0.18">2005</text>
<text x="0.00" y="0.00" font-size="9.2" text-anchor="middle" font-weight="normal" fill="#000000" transform="translate(379.26 615.90) scale(0.9300 1)" stroke="#000000" stroke-width="0.18">2010</text>
<text x="0.00" y="0.00" font-size="9.2" text-anchor="middle" font-weight="normal" fill="#000000" transform="translate(481.18 615.90) scale(0.9300 1)" stroke="#000000" stroke-width="0.18">2015</text>
<text x="0.00" y="0.00" font-size="9.2" text-anchor="middle" font-weight="normal" fill="#000000" transform="translate(583.10 615.90) scale(0.9300 1)" stroke="#000000" stroke-width="0.18">2020</text>
<text x="0.00" y="0.00" font-size="9.2" text-anchor="end" font-weight="normal" fill="#000000" transform="translate(29.00 606.40) scale(0.9300 1)" stroke="#000000" stroke-width="0.18">0</text>
<text x="0.00" y="0.00" font-size="9.2" text-anchor="end" font-weight="normal" fill="#000000" transform="translate(29.00 576.30) scale(0.9300 1)" stroke="#000000" stroke-width="0.18">1</text>
<text x="0.00" y="0.00" font-size="9.2" text-anchor="end" font-weight="normal" fill="#000000" transform="translate(29.00 546.10) scale(0.9300 1)" stroke="#000000" stroke-width="0.18">2</text>
<text x="0.00" y="0.00" font-size="10.2" text-anchor="middle" font-weight="normal" fill="#000000" transform="translate(17.20 575.00) rotate(-90)" stroke="#000000" stroke-width="0.1">Density</text>
<text x="32.90" y="535.60" font-size="11.3" text-anchor="start" font-weight="bold" fill="#000000" stroke="#000000" stroke-width="0.1">d</text>
<text x="0.00" y="0.00" font-size="10.5" text-anchor="middle" font-weight="normal" fill="#000000" transform="translate(358.00 535.70) scale(1.0350 1)" stroke="#000000" stroke-width="0.1">Change point - posterior distribution</text>
<text x="358.80" y="628.70" font-size="10.4" text-anchor="middle" font-weight="normal" fill="#000000" stroke="#000000" stroke-width="0.1">Year</text>
</g>
</svg>
</body></html>
